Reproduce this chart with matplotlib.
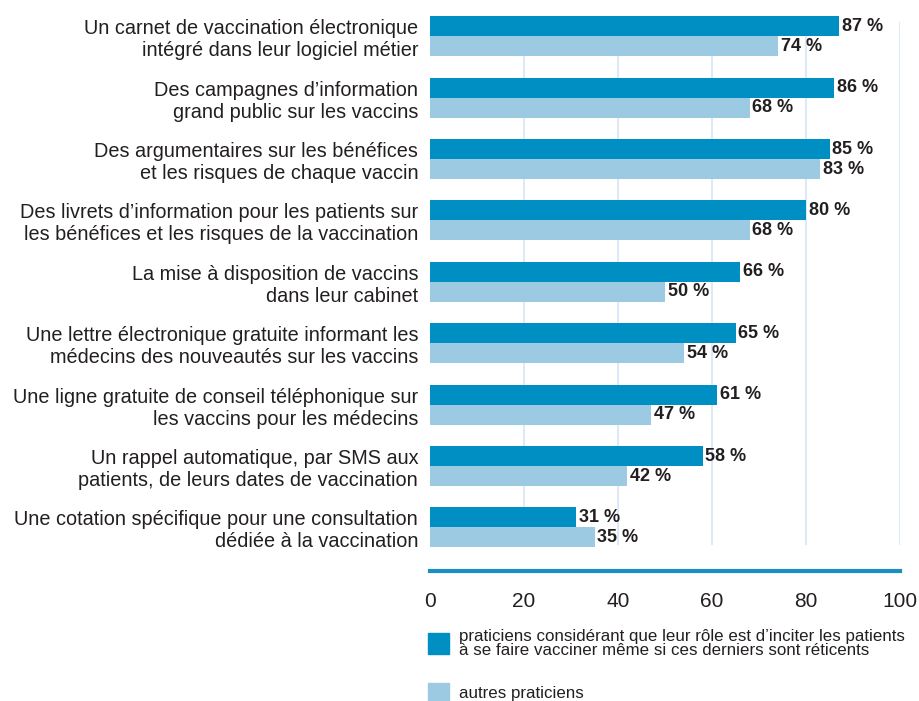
import numpy as np
import matplotlib
matplotlib.use("Agg")
import matplotlib.pyplot as plt
from matplotlib.patches import Rectangle

plt.rcParams['font.family'] = ['Liberation Sans', 'DejaVu Sans']

categories = [
    "Un carnet de vaccination électronique\nintégré dans leur logiciel métier",
    "Des campagnes d\u2019information\ngrand public sur les vaccins",
    "Des argumentaires sur les bénéfices\net les risques de chaque vaccin",
    "Des livrets d\u2019information pour les patients sur\nles bénéfices et les risques de la vaccination",
    "La mise à disposition de vaccins\ndans leur cabinet",
    "Une lettre électronique gratuite informant les\nmédecins des nouveautés sur les vaccins",
    "Une ligne gratuite de conseil téléphonique sur\nles vaccins pour les médecins",
    "Un rappel automatique, par SMS aux\npatients, de leurs dates de vaccination",
    "Une cotation spécifique pour une consultation\ndédiée à la vaccination",
]
incitateurs = [87, 86, 85, 80, 66, 65, 61, 58, 31]
autres = [74, 68, 83, 68, 50, 54, 47, 42, 35]
ticks = [0, 20, 40, 60, 80, 100]

legend_labels = [
    "praticiens considérant que leur rôle est d\u2019inciter les patients\nà se faire vacciner même si ces derniers sont réticents",
    "autres praticiens",
]

dark = "#008fc2"
light = "#9ccae3"
grid_col = "#dde9f6"
txt = "#231f20"

fig = plt.figure(figsize=(9.19, 7.01), dpi=100)
# axes in pixel terms: left 430, right 900, top 16, bottom 571
W, H = 919, 701
ax = fig.add_axes([430 / W, 1 - 571 / H, 470 / W, 555 / H])

y = np.arange(len(categories))
h = 0.326
ax.barh(y - h / 2, incitateurs, height=h, color=dark, zorder=3)
ax.barh(y + h / 2, autres, height=h, color=light, zorder=3)

for yi, v in zip(y, incitateurs):
    ax.text(v + 0.6, yi - h / 2, f"{v} %", va="center", ha="left",
            fontsize=13, fontweight="bold", color=txt, zorder=4)
for yi, v in zip(y, autres):
    ax.text(v + 0.6, yi + h / 2, f"{v} %", va="center", ha="left",
            fontsize=13, fontweight="bold", color=txt, zorder=4)

ax.set_xlim(0, 100)
ax.set_ylim(8.71, -0.33)
ax.vlines(ticks[1:], -0.23, 8.29, color=grid_col, lw=1.5, zorder=1)

for s in ["top", "right", "left"]:
    ax.spines[s].set_visible(False)
ax.spines["bottom"].set_color("#1a8fc4")
ax.spines["bottom"].set_linewidth(3)

ax.set_xticks(ticks)
ax.set_xticklabels([str(t) for t in ticks], fontsize=15, color=txt)
ax.tick_params(axis="x", length=0, pad=15)
ax.set_yticks(y)
ax.set_yticklabels(categories, fontsize=14.3, color=txt, linespacing=1.2)
ax.tick_params(axis="y", length=0, pad=8.5)

# legend
for i, (lab, col) in enumerate(zip(legend_labels, [dark, light])):
    ytop = [633, 683][i]
    fig.patches.append(Rectangle((428 / W, 1 - (ytop + 21) / H), 21 / W, 21 / H,
                                 transform=fig.transFigure, color=col))
    fig.text(459 / W, 1 - (ytop + 10.5) / H, lab, fontsize=12.2, va="center",
             ha="left", color=txt, linespacing=0.95)

fig.savefig("out.png", dpi=100)
